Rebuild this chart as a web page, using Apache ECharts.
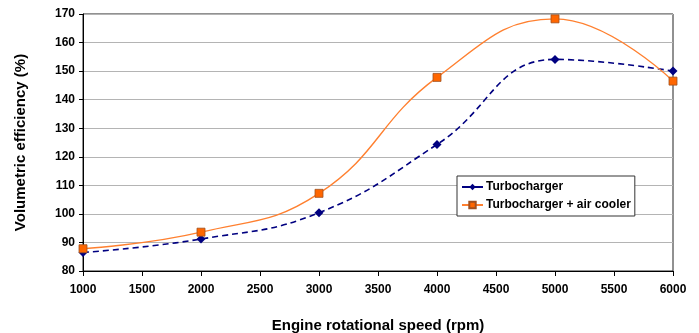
<!DOCTYPE html>
<html><head><meta charset="utf-8">
<script src="https://cdn.jsdelivr.net/npm/echarts@6/dist/echarts.min.js"></script>
<style>html,body{margin:0;padding:0;background:#fff}#c{width:699px;height:333px}</style>
</head><body><div id="c"></div>
<script>
const speeds = [1000, 2000, 3000, 4000, 5000, 6000];
const turbo = [86.5, 91.2, 100.4, 124.3, 154.1, 150.0];
const turboCooler = [87.8, 93.6, 107.2, 147.8, 168.3, 146.5];
const seriesNames = ['Turbocharger', 'Turbocharger + air cooler'];
const xTitle = 'Engine rotational speed (rpm)';
const yTitle = 'Volumetric efficiency (%)';

const font = 'Liberation Sans, Arial, sans-serif';
const chart = echarts.init(document.getElementById('c'));
chart.setOption({
  animation: false,
  grid: { left: 83, right: 26, top: 14, bottom: 62, show: true, borderColor: '#222', borderWidth: 1,
          outerBoundsMode: 'none', containLabel: false },
  legend: {
    orient: 'vertical', left: 457, top: 176,
    backgroundColor: '#fff', borderColor: '#333', borderWidth: 1,
    padding: [5, 4, 5, 4], itemGap: 6, itemWidth: 21, itemHeight: 8,
    textStyle: { fontFamily: font, fontWeight: 'bold', fontSize: 12, color: '#000', padding: [0, 0, 0, -2] },
    data: [
      { name: seriesNames[0], lineStyle: { type: 'solid' } },
      { name: seriesNames[1] }
    ]
  },
  xAxis: {
    type: 'value', min: 1000, max: 6000, interval: 500,
    name: xTitle, nameLocation: 'middle', nameGap: 47,
    nameTextStyle: { fontFamily: font, fontWeight: 'bold', fontSize: 15, color: '#000' },
    axisLine: { lineStyle: { color: '#000', width: 1 } },
    axisTick: { show: true, length: 5, lineStyle: { color: '#000' } },
    axisLabel: { fontFamily: font, fontWeight: 'bold', fontSize: 12, color: '#000', margin: 13, formatter: v => String(v) },
    splitLine: { show: false }
  },
  yAxis: {
    type: 'value', min: 80, max: 170, interval: 10,
    name: yTitle, nameLocation: 'middle', nameGap: 55, nameRotate: 90,
    nameTextStyle: { fontFamily: font, fontWeight: 'bold', fontSize: 15, color: '#000' },
    axisLine: { show: true, lineStyle: { color: '#000', width: 1 } },
    axisTick: { show: true, length: 4, lineStyle: { color: '#000' } },
    axisLabel: { fontFamily: font, fontWeight: 'bold', fontSize: 12, color: '#000', margin: 8 },
    splitLine: { show: true, lineStyle: { color: '#b4b4b4', width: 1 } }
  },
  series: [
    {
      name: seriesNames[0], type: 'line', smooth: 0.45,
      data: speeds.map((x, i) => [x, turbo[i]]),
      symbol: 'diamond', symbolSize: 9,
      lineStyle: { color: '#000080', width: 1.6, type: [6, 4] },
      itemStyle: { color: '#000080' }
    },
    {
      name: seriesNames[1], type: 'line', smooth: 0.45,
      data: speeds.map((x, i) => [x, turboCooler[i]]),
      symbol: 'rect', symbolSize: 8,
      lineStyle: { color: '#ff8030', width: 1.4 },
      itemStyle: { color: '#ff6600', borderColor: '#a05020', borderWidth: 0.8 }
    }
  ]
});
</script></body></html>
